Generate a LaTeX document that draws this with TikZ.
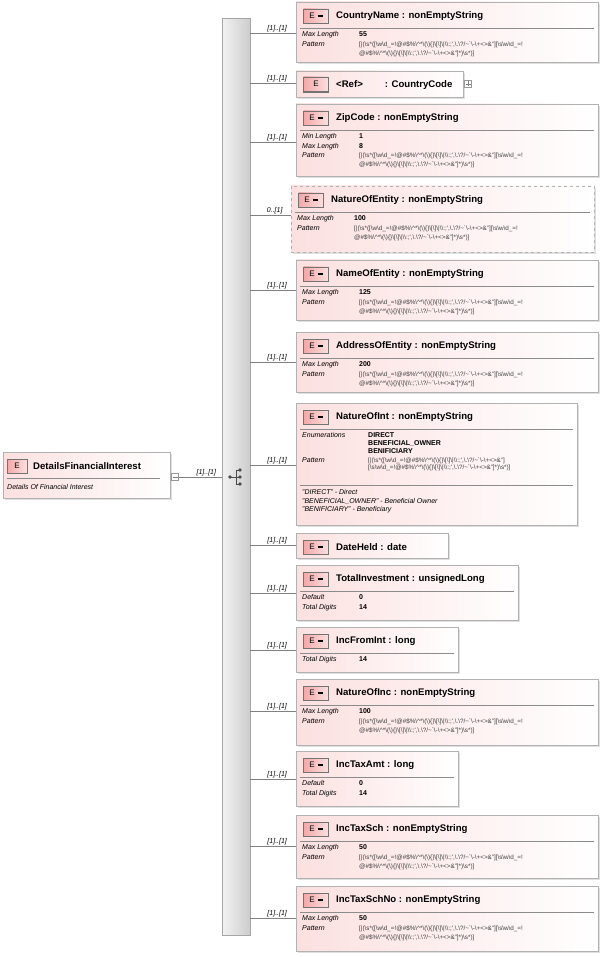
\documentclass[tikz,border=0pt]{standalone}
\usepackage{fontspec}
\setmainfont{Liberation Sans}
\usetikzlibrary{shadows}
\definecolor{boxpink}{HTML}{FCE0E0}
\definecolor{badgered}{HTML}{F4A8A8}
\newcommand\bs{\textbackslash}
\newcommand\rst{@\#\$\%\bs\textasciicircum*\bs(\bs)\{\}\bs[\bs]\bs|\bs\bs:;\textquotesingle,\bs.\bs?/\textasciitilde\textasciigrave\bs-\bs+<>\&"}
\newcommand\cls{\bs{}w\bs{}d\_=!\rst}
\newcommand\patA{[|(\bs{}s*([\cls][\bs{}s\bs{}w\bs{}d\_=!}
\newcommand\patB{\rst]*)\bs{}s*)]}
\tikzset{
 ebox/.style={draw=black!30,left color=boxpink,right color=white,anchor=north west,inner sep=0,outer sep=0,
   drop shadow={opacity=0.25,shadow xshift=2pt,shadow yshift=-2pt}},
 badge/.style={draw=black!55,left color=badgered,right color=boxpink,minimum width=25pt,minimum height=14pt,inner sep=0,font=\fontsize{8}{8}\selectfont},
 ttl/.style={anchor=west,font=\bfseries\fontsize{9.6}{10}\selectfont,inner sep=0},
 sep/.style={draw=black!45},
 props/.style={anchor=north west,inner sep=0,font=\fontsize{7}{9.3}\selectfont},
 card/.style={font=\itshape\fontsize{7}{8}\selectfont,inner sep=1pt},
 conn/.style={draw=black!50}
}
\newcommand\elem[7]{%
 \node[ebox,minimum width=#4pt,minimum height=#5pt,#7] (#1) at (#2,#3) {};
 \node[badge] (#1b) at (#2+20,#3+14) {E\hspace{3pt}\rule[1.5pt]{5pt}{2pt}};
 \node[ttl] (#1t) at (#2+40,#3+14) {#6};
}
\newcommand\pv[1]{\textbf{#1}}
\newcommand\pt[1]{{\color{black!75}\fontsize{6.3}{9.3}\selectfont #1}}
\begin{document}
\begin{tikzpicture}[x=1pt,y=-1pt]
\useasboundingbox (0,0) rectangle (603,957);
% root
\node[ebox,minimum width=167pt,minimum height=46pt] (root) at (3,452) {};
\node[badge,minimum width=20pt] (rootb) at (17,466) {E};
\node[ttl] (roott) at (33,466) {DetailsFinancialInterest};
\draw[sep] (7,478) -- (160,478);
\node[anchor=west,inner sep=0,font=\itshape\fontsize{7}{8}\selectfont] (rootd) at (7,487) {Details Of Financial Interest};
\node[draw=black!40,fill=white,minimum size=7pt,inner sep=0] (rootm) at (175,477) {};
\draw[black!50] (172.5,477) -- (177.5,477);
% sequence bar
\node[draw=black!35,left color=black!5,right color=black!20,anchor=north west,minimum width=28pt,minimum height=917pt,inner sep=0] (bar) at (222,18) {};
\coordinate (sq) at (236,477);
\draw[conn] (rootm.east) -- (bar.west |- sq) node[midway,above,card,xshift=6pt] {[1]..[1]};
\fill[black!70] (230,477) circle (1.8pt) (240,470) circle (1.8pt) (240,477) circle (1.8pt) (240,484) circle (1.8pt);
\draw[black!70] (230,477) -- (236,477) (236,470) -- (236,484) (236,470) -- (240,470) (236,484) -- (240,484) (236,477)--(240,477);
% elements
\elem{cn}{296}{2}{302}{60}{CountryName : nonEmptyString}{}
\elem{ref}{296}{71}{167}{26}{<Ref>\hspace{22pt}: CountryCode}{}
\node[badge] at (316,84) {E\hspace{8pt}};
\node[draw=black!40,fill=white,minimum size=7pt,inner sep=0] (refp) at (468,84) {};
\draw[black!50] (465.5,84) -- (470.5,84) (468,81.5) -- (468,86.5);
\elem{zip}{296}{104}{302}{72}{ZipCode : nonEmptyString}{}
\elem{noe}{291}{186}{303}{66}{NatureOfEntity : nonEmptyString}{dashed}
\elem{nme}{296}{260}{302}{60}{NameOfEntity : nonEmptyString}{}
\elem{adr}{296}{332}{302}{60}{AddressOfEntity : nonEmptyString}{}
\elem{noi}{296}{403}{281}{122}{NatureOfInt : nonEmptyString}{}
\elem{dat}{296}{533}{152}{25}{DateHeld : date}{}
\elem{tin}{296}{565}{222}{55}{TotalInvestment : unsignedLong}{}
\elem{inc}{296}{627}{162}{45}{IncFromInt : long}{}
\elem{noc}{296}{679}{302}{66}{NatureOfInc : nonEmptyString}{}
\elem{ita}{296}{751}{162}{55}{IncTaxAmt : long}{}
\elem{its}{296}{815}{302}{63}{IncTaxSch : nonEmptyString}{}
\elem{itn}{296}{886}{302}{65}{IncTaxSchNo : nonEmptyString}{}
% separators
\foreach \b/\x/\y/\w in {cn/296/2/302,zip/296/104/302,noe/291/186/303,nme/296/260/302,adr/296/332/302,noi/296/403/281,tin/296/565/222,inc/296/627/162,noc/296/679/302,ita/296/751/162,its/296/815/302,itn/296/886/302}
  \draw[sep] (\x+4,\y+26) -- (\x+\w-4,\y+26);
% properties
\newcommand\pl[1]{\textit{#1}}
\newcommand\patrows{\pl{Pattern} & \pt{\patA}\\ & \pt{\patB}}
\node[props] (cnp) at (302,30) {\begin{tabular}{@{}p{57pt}@{}l@{}}\pl{Max Length}&\pv{55}\\ \patrows\end{tabular}};
\node[props] (zipp) at (302,132) {\begin{tabular}{@{}p{57pt}@{}l@{}}\pl{Min Length}&\pv{1}\\ \pl{Max Length}&\pv{8}\\ \patrows\end{tabular}};
\node[props] (noep) at (297,214) {\begin{tabular}{@{}p{57pt}@{}l@{}}\pl{Max Length}&\pv{100}\\ \patrows\end{tabular}};
\node[props] (nmep) at (302,288) {\begin{tabular}{@{}p{57pt}@{}l@{}}\pl{Max Length}&\pv{125}\\ \patrows\end{tabular}};
\node[props] (adrp) at (302,360) {\begin{tabular}{@{}p{57pt}@{}l@{}}\pl{Max Length}&\pv{200}\\ \patrows\end{tabular}};
\node[props] (noip) at (302,431) {\begin{tabular}{@{}p{66pt}@{}l@{}}\pl{Enumerations}&\pv{DIRECT}\\[-1.5pt] &\pv{BENEFICIAL\_OWNER}\\[-1.5pt] &\pv{BENIFICIARY}\\ \pl{Pattern}&\pt{[|(\bs{}s*([\cls]}\\[-2pt] &\pt{[\bs{}s\cls]*)\bs{}s*)]}\end{tabular}};
\draw[sep] (300,485) -- (573,485);
\node[props] (noid) at (302,488) {\begin{tabular}{@{}l@{}}\textit{"DIRECT" - Direct}\\[-1pt] \textit{"BENEFICIAL\_OWNER" - Beneficial Owner}\\[-1pt] \textit{"BENIFICIARY" - Beneficiary}\end{tabular}};
\node[props] (tinp) at (302,593) {\begin{tabular}{@{}p{57pt}@{}l@{}}\pl{Default}&\pv{0}\\ \pl{Total Digits}&\pv{14}\end{tabular}};
\node[props] (incp) at (302,655) {\begin{tabular}{@{}p{57pt}@{}l@{}}\pl{Total Digits}&\pv{14}\end{tabular}};
\node[props] (nocp) at (302,707) {\begin{tabular}{@{}p{57pt}@{}l@{}}\pl{Max Length}&\pv{100}\\ \patrows\end{tabular}};
\node[props] (itap) at (302,779) {\begin{tabular}{@{}p{57pt}@{}l@{}}\pl{Default}&\pv{0}\\ \pl{Total Digits}&\pv{14}\end{tabular}};
\node[props] (itsp) at (302,843) {\begin{tabular}{@{}p{57pt}@{}l@{}}\pl{Max Length}&\pv{50}\\ \patrows\end{tabular}};
\node[props] (itnp) at (302,914) {\begin{tabular}{@{}p{57pt}@{}l@{}}\pl{Max Length}&\pv{50}\\ \patrows\end{tabular}};
% connectors
\foreach \b/\y/\c in {cn/33/[1]..[1],ref/83/[1]..[1],zip/142/[1]..[1],noe/215/0..[1],nme/290/[1]..[1],adr/362/[1]..[1],noi/465/[1]..[1],dat/545/[1]..[1],tin/593/[1]..[1],inc/650/[1]..[1],noc/711/[1]..[1],ita/779/[1]..[1],its/846/[1]..[1],itn/918/[1]..[1]}
  \draw[conn] (bar.east |- 0,\y) -- (\b.west |- 0,\y) node[pos=0.5,above,card,xshift=4pt] {\c};
\end{tikzpicture}
\end{document}
